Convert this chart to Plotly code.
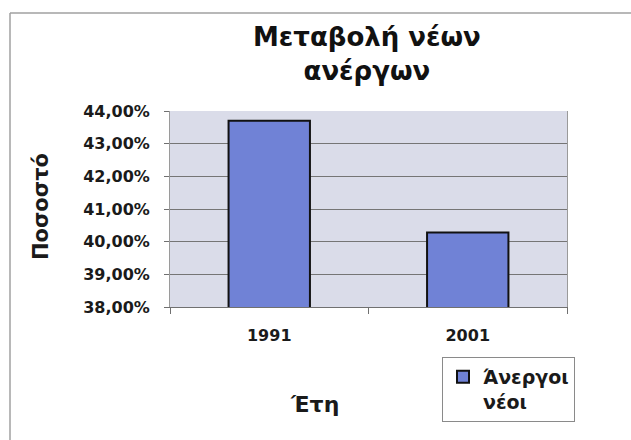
import plotly.graph_objects as go

years = ["1991", "2001"]
unemployed_young = [0.4370, 0.4028]
series_name = "Άνεργοι<br>νέοι"
title_text = "Μεταβολή νέων<br>ανέργων"
y_title = "Ποσοστό"
x_title = "Έτη"

W, H = 631, 440
L, R, T, B = 170, 567, 111, 307  # plot area pixels


def px(x):
    return (x - L) / (R - L)


def py(y):
    return (B - y) / (B - T)


FONT = "DejaVu Sans"

fig = go.Figure()
fig.add_trace(go.Bar(
    x=years, y=unemployed_young, name=series_name,
    marker=dict(color="#7082d6", line=dict(color="#111111", width=2)),
    showlegend=True,
))

fig.update_layout(
    width=W, height=H,
    margin=dict(l=L, r=W - R, t=T, b=H - B, pad=0, autoexpand=False),
    paper_bgcolor="white",
    plot_bgcolor="#dadce9",
    separators=",.",
    bargap=0.59,
    font=dict(family=FONT, color="#1a1a1a"),
    xaxis=dict(
        type="category", tickson="boundaries", ticks="outside", ticklen=6,
        tickcolor="#707070", showline=True, linecolor="#707070", linewidth=1,
        mirror=False, showgrid=False, automargin=False,
        tickfont=dict(family=FONT, size=16, color="#1a1a1a", weight="bold"),
        ticklabelstandoff=14,
    ),
    yaxis=dict(
        range=[0.38, 0.44], dtick=0.01, tickformat=".2%",
        ticks="outside", ticklen=5, tickcolor="#707070", automargin=False,
        showline=True, linecolor="#9a9a9a", linewidth=1, mirror=True,
        gridcolor="#757575", gridwidth=1,
        tickfont=dict(family=FONT, size=16, color="#1a1a1a", weight="bold"),
        ticklabelstandoff=11,
    ),
    legend=dict(
        x=px(442), y=py(357), xanchor="left", yanchor="top",
        bordercolor="#8a8a8a", borderwidth=1, bgcolor="white",
        font=dict(family=FONT, size=19, color="#1a1a1a", weight="bold"),
        valign="top",
    ),
    showlegend=True,
)

annotations = [
    dict(text="<b>" + title_text + "</b>", x=px(367), y=py(20), xref="paper", yref="paper",
         xanchor="center", yanchor="top", showarrow=False,
         font=dict(family=FONT, size=26, color="#111111")),
    dict(text="<b>" + y_title + "</b>", x=px(41), y=py(207), xref="paper", yref="paper",
         xanchor="center", yanchor="middle", textangle=-90, showarrow=False,
         font=dict(family=FONT, size=21, color="#1a1a1a")),
    dict(text="<b>" + x_title + "</b>", x=px(314), y=py(404), xref="paper", yref="paper",
         xanchor="center", yanchor="middle", showarrow=False,
         font=dict(family=FONT, size=22, color="#1a1a1a")),
]
fig.update_layout(annotations=annotations)

# chart-area frame (top and left edges visible in the scan)
fig.add_shape(type="line", xref="paper", yref="paper",
              x0=px(10), x1=px(631), y0=py(13), y1=py(13),
              line=dict(color="#a0a0a0", width=1.5))
fig.add_shape(type="line", xref="paper", yref="paper",
              x0=px(10), x1=px(10), y0=py(13), y1=py(440),
              line=dict(color="#a0a0a0", width=1.5))

fig.write_html("out.html",
               config={"displayModeBar": False},
               post_script="document.body.style.margin='0';document.body.style.overflow='hidden';")
